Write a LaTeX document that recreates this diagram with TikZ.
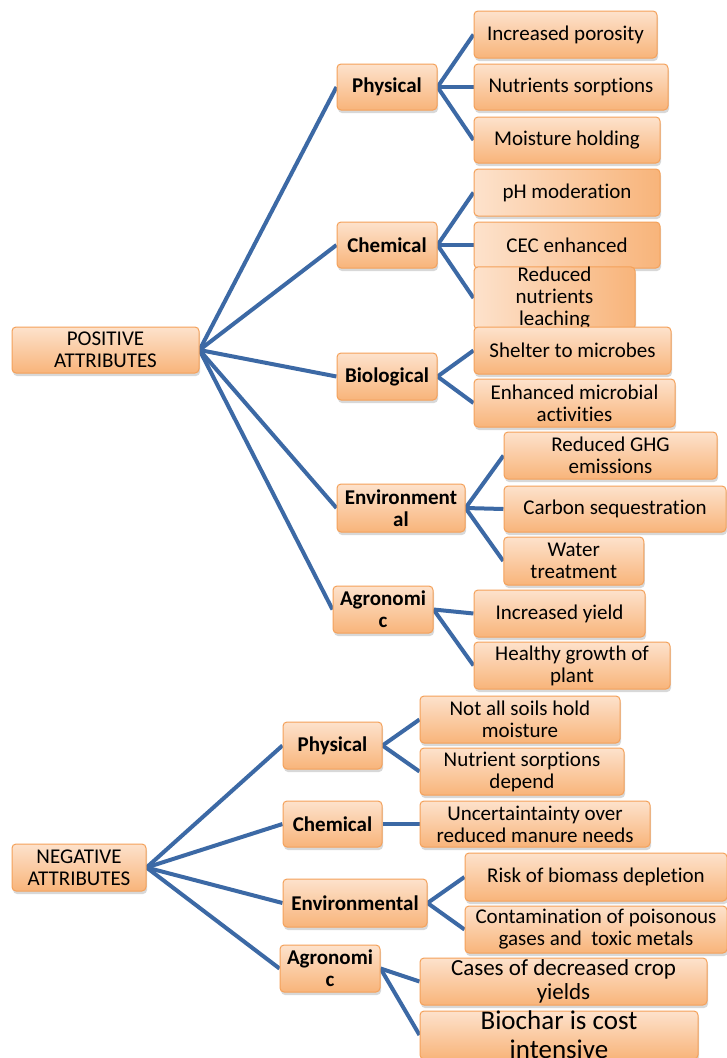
\documentclass[tikz,border=0pt]{standalone}
\usepackage{fontspec}
\setmainfont{Carlito}[Ligatures=NoCommon]
\usetikzlibrary{shadows}
\definecolor{boxtop}{HTML}{FDE2CC}
\definecolor{boxbot}{HTML}{F8B47A}
\definecolor{boxborder}{HTML}{F4A15A}
\definecolor{linkblue}{HTML}{3C69A5}
\pgfdeclarelayer{bg}
\pgfdeclarelayer{edges}
\pgfsetlayers{bg,edges,main}
\tikzset{
  box/.style={draw=boxborder, line width=1pt, rounded corners=4pt,
    top color=boxtop, bottom color=boxbot, inner sep=0pt, align=center,
    font=\fontsize{21}{22}\selectfont,
    drop shadow={opacity=0.3, shadow xshift=1pt, shadow yshift=-3pt}},
  hbox/.style={box, left color=boxtop, right color=boxbot},
  cat/.style={box, font=\bfseries\fontsize{21}{22}\selectfont},
  sz/.style 2 args={minimum width=#1pt, minimum height=#2pt},
  link/.style={draw=linkblue, line width=4pt},
}
\begin{document}
\begin{tikzpicture}[x=1pt,y=-1pt]
\useasboundingbox (0,0) rectangle (726,1058);
\begin{pgfonlayer}{bg}
\fill[white] (0,0) rectangle (726,1058);
\end{pgfonlayer}
% ---------- positive ----------
\node[box, sz={187}{46}] (pos) at (105.5,350) {POSITIVE\\ATTRIBUTES};
\node[cat, sz={100}{46}] (pphy) at (387,87) {Physical};
\node[box, sz={183}{47}] (l1) at (565.5,34.5) {Increased porosity};
\node[box, sz={194}{46}] (l2) at (571,87) {Nutrients sorptions};
\node[box, sz={186}{46}] (l3) at (567,140) {Moisture holding};
\node[hbox, sz={186}{47}] (l4) at (567,192.5) {pH moderation};
\node[cat, sz={100}{46}] (pche) at (387,245) {Chemical};
\node[hbox, sz={186}{46}] (l5) at (567,245) {CEC enhanced};
\node[hbox, sz={161}{47}] (l6) at (554.5,298) {Reduced\\nutrients\\leaching};
\node[cat, sz={100}{47}] (pbio) at (387,376.5) {Biological};
\node[box, sz={197}{47}] (l7) at (572.5,350.5) {Shelter to microbes};
\node[box, sz={201}{48}] (l8) at (574.5,403) {Enhanced microbial\\activities};
\node[box, sz={213}{47}] (l9) at (610.5,455.5) {Reduced GHG\\emissions};
\node[cat, sz={128}{48}] (penv) at (401,508) {Environment\\al};
\node[box, sz={222}{46}] (l10) at (615,509) {Carbon sequestration};
\node[box, sz={140}{48}] (l11) at (573.75,561) {Water\\treatment};
\node[cat, sz={100}{47}] (pagr) at (383,609.5) {Agronomi\\c};
\node[box, sz={171}{47}] (l12) at (559.5,613.5) {Increased yield};
\node[box, sz={196}{47}] (l13) at (572,665.5) {Healthy growth of\\plant};
% ---------- negative ----------
\node[box, sz={200}{47}] (m1) at (520,719.5) {Not all soils hold\\moisture};
\node[cat, sz={99}{47}] (nphy) at (332.5,745.5) {Physical};
\node[box, sz={204}{47}] (m2) at (522,771.5) {Nutrient sorptions\\depend};
\node[cat, sz={99}{46}] (nche) at (332.5,824) {Chemical};
\node[box, sz={230}{46}] (m3) at (535,824) {Uncertaintainty over\\reduced manure needs};
\node[box, sz={134}{47}] (neg) at (79,867.5) {NEGATIVE\\ATTRIBUTES};
\node[box, sz={262}{48}] (m4) at (596,877) {Risk of biomass depletion};
\node[cat, sz={144}{48}] (nenv) at (355,903) {Environmental};
\node[box, sz={262}{47}] (m5) at (596,929.5) {Contamination of poisonous\\gases and~ toxic metals};
\node[cat, sz={100}{47}] (nagr) at (330,968.5) {Agronomi\\c};
\node[box, sz={287}{47}, font=\fontsize{23}{24}\selectfont] (m6) at (563.5,981.5) {Cases of decreased crop\\yields};
\node[box, sz={278}{48}, font=\fontsize{27}{29}\selectfont] (m7) at (559,1035) {Biochar is cost\\intensive};
% ---------- connectors ----------
\begin{pgfonlayer}{edges}
\foreach \c in {pphy,pche,pbio,penv,pagr} \draw[link] (pos.east) -- (\c.west);
\foreach \l in {l1,l2,l3} \draw[link] (pphy.east) -- (\l.west);
\foreach \l in {l4,l5,l6} \draw[link] (pche.east) -- (\l.west);
\foreach \l in {l7,l8} \draw[link] (pbio.east) -- (\l.west);
\foreach \l in {l9,l10,l11} \draw[link] (penv.east) -- (\l.west);
\foreach \l in {l12,l13} \draw[link] (pagr.east) -- (\l.west);
\foreach \c in {nphy,nche,nenv,nagr} \draw[link] (neg.east) -- (\c.west);
\foreach \l in {m1,m2} \draw[link] (nphy.east) -- (\l.west);
\draw[link] (nche.east) -- (m3.west);
\foreach \l in {m4,m5} \draw[link] (nenv.east) -- (\l.west);
\foreach \l in {m6,m7} \draw[link] (nagr.east) -- (\l.west);
\end{pgfonlayer}
\end{tikzpicture}
\end{document}
